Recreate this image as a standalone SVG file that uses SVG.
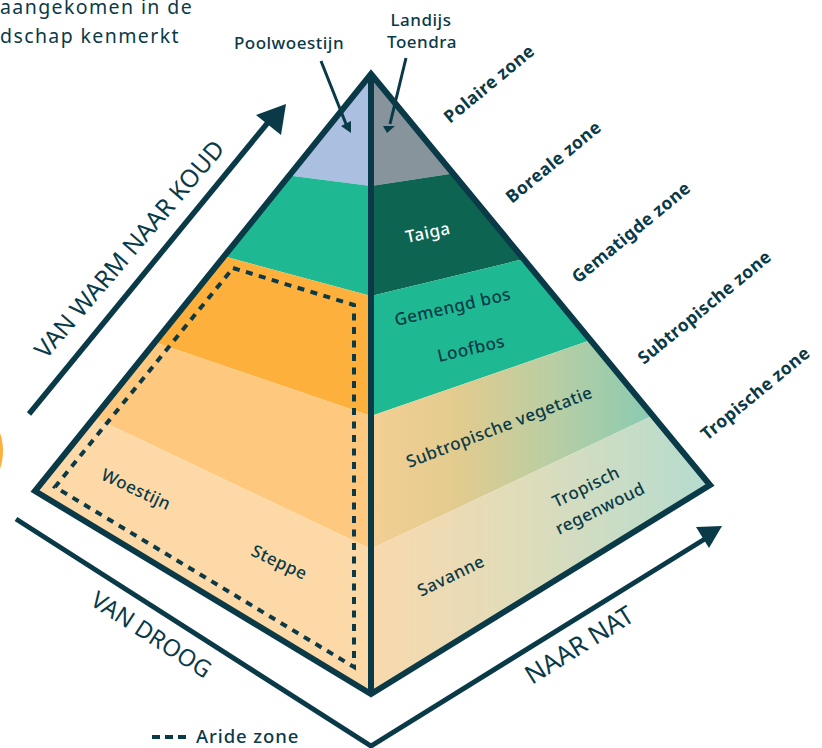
<svg xmlns="http://www.w3.org/2000/svg" width="822" height="748" viewBox="0 0 822 748">
<style>
text{font-family:"Noto Sans","DejaVu Sans",sans-serif;fill:#0a3a47}
.l{font-size:17px;font-weight:500;letter-spacing:.5px}
.z{font-size:17.5px;font-weight:700;letter-spacing:.4px}
.a{font-size:24.5px}
.t{font-size:19.5px;letter-spacing:1.4px}
.edge{fill:none;stroke:#0a3a47;stroke-width:6;stroke-miterlimit:10}
</style>
<defs>
<linearGradient id="g1" gradientUnits="userSpaceOnUse" x1="373" y1="0" x2="648" y2="0"><stop offset="0" stop-color="#f3cf94"/><stop offset=".3" stop-color="#e3cb8e"/><stop offset=".65" stop-color="#b9cea3"/><stop offset="1" stop-color="#8ccbb1"/></linearGradient>
<linearGradient id="g2" gradientUnits="userSpaceOnUse" x1="373" y1="0" x2="710" y2="0"><stop offset="0" stop-color="#f9d9ad"/><stop offset=".4" stop-color="#e2dcb9"/><stop offset="1" stop-color="#b5dccf"/></linearGradient>
</defs>
<text class="t" x="0" y="14">aangekomen in de</text>
<text class="t" x="0" y="43">dschap kenmerkt</text>
<path d="M0 433C4 443 4 458 0 469Z" fill="#fbb03f"/>
<g id="left-face">
<polygon points="371,72 289,175.6 371,186" fill="#abc0e0"/>
<polygon points="289,175.6 371,186 371,296 223,256" fill="#1eb992"/>
<polygon points="223,256 371,296 371,416 154,342" fill="#fdb03c"/>
<polygon points="154,342 371,416 371,549 93,417" fill="#fec87e"/>
<polygon points="93,417 371,549 371,695 33,491" fill="#fdd9a8"/>
</g>
<g id="right-face">
<polygon points="371,72 453,173.4 371,186" fill="#87949c"/>
<polygon points="453,173.4 524,259 371,296 371,186" fill="#0d6551"/>
<polygon points="524,259 591,340 371,416 371,296" fill="#1eb992"/>
<polygon points="591,340 654,415 371,549 371,416" fill="url(#g1)"/>
<polygon points="654,415 710,485 371,694 371,549" fill="url(#g2)"/>
</g>
<g id="outline">
<polygon class="edge" points="371,74 710,485 371,694 35,491"/>
<path class="edge" d="M371 74V694"/>
</g>
<g id="arid-zone">
<polygon points="233,268 354,305 354,667 55,487" fill="none" stroke="#0a3a47" stroke-width="4" stroke-dasharray="7 6.5"/>
</g>
<g id="connectors" fill="#0a3a47" stroke="#0a3a47">
<path d="M29 414L270 120" fill="none" stroke-width="5.5"/>
<polygon points="286,104 256,115 281,135" stroke="none"/>
<path d="M16 519L371 746L708 537" fill="none" stroke-width="5"/>
<polygon points="722,526 696,527 709,548" stroke="none"/>
<path d="M321 61L346 124" fill="none" stroke-width="3"/>
<polygon points="351,133 341,126 351,121" stroke="none"/>
<path d="M406 58L390 124" fill="none" stroke-width="3"/>
<polygon points="387,133 383,126 395,126" stroke="none"/>
</g>
<g id="labels">
<text class="l" x="289" y="49" text-anchor="middle">Poolwoestijn</text>
<text class="l" x="421" y="26" text-anchor="middle">Landijs</text>
<text class="l" x="422" y="48" text-anchor="middle">Toendra</text>
<text class="z" transform="translate(450,124) rotate(-39.5)">Polaire zone</text>
<text class="z" transform="translate(512,204) rotate(-39.5)">Boreale zone</text>
<text class="z" transform="translate(578,284) rotate(-39.5)">Gematigde zone</text>
<text class="z" transform="translate(644,365) rotate(-39.5)">Subtropische zone</text>
<text class="z" transform="translate(707,441) rotate(-39.5)">Tropische zone</text>
<text class="l" style="fill:#fff" transform="translate(407,243) rotate(-12)">Taiga</text>
<text class="l" transform="translate(396,326) rotate(-13)">Gemengd bos</text>
<text class="l" transform="translate(439,362) rotate(-13)">Loofbos</text>
<text class="l" transform="translate(409,468) rotate(-21)">Subtropische vegetatie</text>
<text class="l" transform="translate(556,508) rotate(-26)">Tropisch</text>
<text class="l" transform="translate(559,535) rotate(-26)">regenwoud</text>
<text class="l" transform="translate(421,597) rotate(-26)">Savanne</text>
<text class="l" transform="translate(100,479) rotate(25)">Woestijn</text>
<text class="l" transform="translate(250,555) rotate(25)">Steppe</text>
<text class="a" transform="translate(46,360) rotate(-49.5)">VAN WARM NAAR KOUD</text>
<text class="a" style="font-size:23.5px" transform="translate(89,604) rotate(33)">VAN DROOG</text>
<text class="a" style="font-size:25.5px" transform="translate(532,685) rotate(-32)">NAAR NAT</text>
</g>
<g id="legend">
<path d="M152 737H187" stroke="#0a3a47" stroke-width="4" stroke-dasharray="8 5" fill="none"/>
<text class="l" style="font-size:18.5px;letter-spacing:.9px" x="196" y="743">Aride zone</text>
</g>
</svg>
